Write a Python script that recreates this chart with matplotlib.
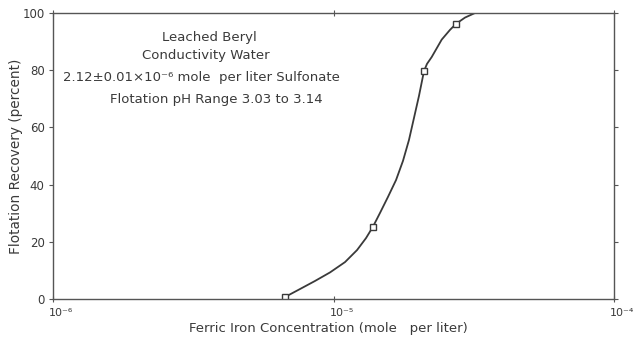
import matplotlib
matplotlib.use("Agg")
import matplotlib.pyplot as plt
from matplotlib.transforms import ScaledTranslation

# measured data points
point_conc = [6.72e-6, 1.383e-5, 2.102e-5, 2.733e-5]
point_recovery = [0.7, 25.3, 79.7, 96.2]

# hand-drawn fitted curve
curve_conc = [6.61e-6, 6.72e-6, 7.60e-6, 8.59e-6, 9.72e-6, 1.099e-5, 1.213e-5, 1.306e-5,
              1.383e-5, 1.465e-5, 1.564e-5, 1.671e-5, 1.769e-5, 1.858e-5, 1.936e-5,
              2.017e-5, 2.102e-5, 2.154e-5, 2.239e-5, 2.431e-5, 2.602e-5, 2.733e-5,
              2.943e-5, 3.195e-5]
curve_recovery = [0.0, 0.7, 3.5, 6.3, 9.3, 12.9, 17.1, 21.3,
                  25.3, 30.1, 35.7, 41.6, 48.3, 55.6, 63.3,
                  71.0, 79.7, 82.2, 84.6, 90.7, 94.1, 96.2,
                  98.4, 100.0]

x_ticks = [1e-6, 1e-5, 1e-4]
x_tick_labels = ["10⁻⁶", "10⁻⁵", "10⁻⁴"]
y_ticks = [0, 20, 40, 60, 80, 100]

notes = ["Leached Beryl", "Conductivity Water",
         "2.12±0.01×10⁻⁶ mole  per liter Sulfonate",
         "Flotation pH Range 3.03 to 3.14"]

ink = "#3a3a3a"
fig = plt.figure(figsize=(6.37, 3.39), dpi=100)
ax = fig.add_axes([53/637, 1-299/339, (614-53)/637, (299-13)/339])
ax.set_xscale("log")
ax.set_xlim(1e-6, 1e-4)
ax.set_ylim(0, 100)

ax.plot(curve_conc, curve_recovery, color=ink, lw=1.3,
        solid_capstyle="round", solid_joinstyle="round")
ax.plot(point_conc, point_recovery, ls="none", marker="s", ms=4.5,
        mfc="white", mec=ink, mew=1.0)

for s in ax.spines.values():
    s.set_color("#555555")
    s.set_linewidth(1.0)

ax.set_xticks(x_ticks)
ax.set_xticklabels(x_tick_labels)
ax.minorticks_off()
ax.set_yticks(y_ticks)
ax.tick_params(axis="both", colors="#555555", labelcolor=ink, labelsize=8.5,
               direction="out", length=3, width=0.8)
ax.tick_params(axis="x", labelsize=8)
ax.tick_params(axis="y", right=True, labelright=False)
ax.tick_params(axis="x", top=True, direction="inout", length=5)
ax.tick_params(axis="x", pad=4)
ax.tick_params(axis="y", pad=3)

shift = ScaledTranslation(-4/100, 0, fig.dpi_scale_trans)
for lab in ax.get_xticklabels():
    lab.set_horizontalalignment("left")
    lab.set_transform(lab.get_transform() + shift)

ax.set_xlabel("Ferric Iron Concentration (mole   per liter)", fontsize=9.5,
              color=ink, labelpad=0)
ax.xaxis.set_label_coords(0.49, -0.08)
ax.set_ylabel("Flotation Recovery (percent)", fontsize=9.8, color=ink)
ax.yaxis.set_label_coords(-0.053, 0.5)

ys = [38, 55, 77, 100]
xs = [209, 206, 201, 216]
for t, xp, yp in zip(notes, xs, ys):
    fig.text(xp/637, 1-yp/339, t, ha="center", va="center",
             fontsize=9.5, color=ink)

fig.savefig("out.png", dpi=100)
